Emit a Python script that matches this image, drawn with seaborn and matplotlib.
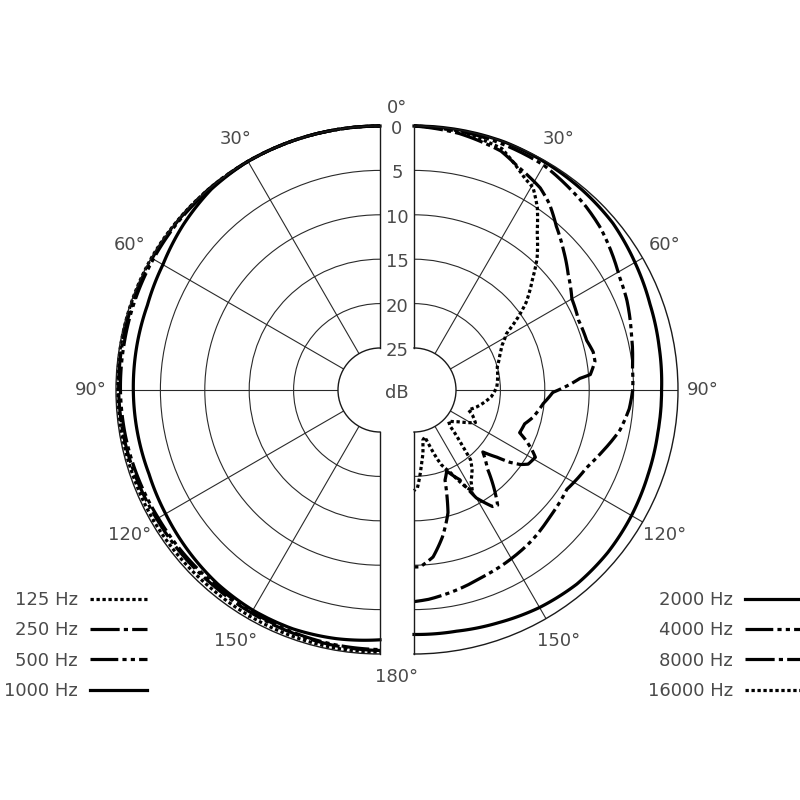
import numpy as np
import pandas as pd
import matplotlib
matplotlib.use("Agg")
import matplotlib.pyplot as plt
import seaborn as sns
from matplotlib.lines import Line2D

# ---------------- data (relative level in dB vs. angle in degrees) ----------------
FREQS_LEFT = ["125 Hz", "250 Hz", "500 Hz", "1000 Hz"]
FREQS_RIGHT = ["2000 Hz", "4000 Hz", "8000 Hz", "16000 Hz"]

ANG_LEFT = [0, 10, 20, 30, 40, 50, 60, 70, 80, 90, 100, 110, 120, 130, 140, 150, 160, 170, 180]
LVL_125 = [0, 0, 0, 0, 0, 0, 0, -0.05, -0.1, -0.2, -0.25, -0.3, -0.3, -0.35, -0.4, -0.35, -0.3, -0.25, -0.2]
LVL_250 = [0, 0, 0, 0, 0, -0.05, -0.1, -0.2, -0.25, -0.3, -0.4, -0.55, -0.7, -0.75, -0.8, -0.75, -0.65, -0.5, -0.4]
LVL_500 = [0, 0, 0, 0, -0.1, -0.15, -0.25, -0.35, -0.45, -0.5, -0.6, -0.75, -0.9, -0.95, -1.0, -0.9, -0.75, -0.6, -0.5]
LVL_1000 = [0, 0, 0, 0, -0.2, -0.8, -1.5, -1.85, -1.9, -1.95, -2.0, -2.05, -1.85, -1.55, -1.25, -1.1, -1.1, -1.3, -1.6]

ANG_2000 = [0, 10, 20, 30, 40, 50, 60, 70, 80, 90, 100, 110, 120, 130, 140, 150, 160, 170, 180]
LVL_2000 = [0, 0, 0, -0.15, -0.3, -0.5, -1.0, -1.45, -1.7, -1.85, -1.85, -1.7, -1.45, -1.25, -1.2, -1.45, -1.85, -2.15, -2.2]

ANG_4000 = [0, 15, 30, 37, 43, 49, 55, 61, 67, 75, 84, 90, 95, 101, 108, 114, 123, 133, 142, 150, 160, 168, 176, 180]
LVL_4000 = [0, -0.2, -0.5, -1.0, -1.4, -1.9, -2.6, -3.3, -3.7, -4.4, -5.0, -5.1, -5.4, -6.1, -7.4, -8.4, -9.2,
            -8.8, -8.2, -7.8, -7.3, -6.7, -6.1, -5.9]

ANG_8000 = [0, 10, 20, 25, 32, 36, 41, 47, 53, 60, 67, 74, 78, 81, 85, 86, 88, 91, 96, 103, 107, 112, 114, 117,
            119, 123, 125, 127, 129, 132, 137, 144, 146, 150, 153, 158, 161, 164.5, 169, 173.5, 178, 180]
LVL_8000 = [0, -0.4, -1.1, -2.0, -2.9, -3.8, -5.3, -6.7, -8.0, -9.2, -9.6, -9.5, -9.1, -9.1, -9.8, -11.0, -12.2,
            -14.1, -15.1, -16.0, -16.7, -16.9, -16.0, -14.8, -14.1, -14.4, -15.1, -16.2, -17.7, -19.3, -17.6,
            -13.7, -13.9, -15.7, -18.4, -19.9, -19.0, -15.4, -12.9, -10.8, -9.8, -9.8]

ANG_16000 = [0, 10, 20, 27.5, 30.5, 34, 38, 43, 47, 52, 55, 58.5, 63, 67, 74.5, 88, 95, 105, 110, 113, 118, 125,
             132, 135, 139, 141, 144, 148, 150, 152, 156, 160, 164, 167, 170, 172, 174, 178, 180]
LVL_16000 = [0, -0.2, -0.8, -2.8, -3.3, -4.9, -7.2, -9.4, -11.5, -13.7, -15.4, -17.5, -18.6, -19.2, -20.0, -20.4,
             -21.0, -22.4, -23.2, -22.6, -21.9, -23.5, -24.5, -24.0, -21.5, -19.6, -18.6, -17.6, -16.6, -17.4,
             -19.5, -20.8, -23.0, -24.3, -24.0, -22.5, -21.5, -18.7, -18.4]

RING_LEVELS = [0, -5, -10, -15, -20, -25]
SPOKES = [30, 60, 90, 120, 150]

# ---------------- style ----------------
plt.rcParams["lines.scale_dashes"] = False
plt.rcParams["font.family"] = ["DejaVu Sans"]
TXT = "#4a4a4a"
FS = 13
LW = 2.3
DASHES = {
    "125 Hz": (2.4, 1.9), "250 Hz": (21, 3, 3, 3), "500 Hz": (20, 3, 3, 3, 3, 3), "1000 Hz": "",
    "2000 Hz": "", "4000 Hz": (20, 3, 3, 3, 3, 3), "8000 Hz": (21, 3, 3, 3), "16000 Hz": (2.4, 1.9),
}
PAL = {k: "black" for k in DASHES}

def long_df(freqs, angs, lvls):
    rows = []
    for f, a, l in zip(freqs, angs, lvls):
        rows.append(pd.DataFrame({"theta": np.deg2rad(a), "level": l, "freq": f}))
    return pd.concat(rows, ignore_index=True)

df_left = long_df(FREQS_LEFT, [ANG_LEFT] * 4, [LVL_125, LVL_250, LVL_500, LVL_1000])
df_right = long_df(FREQS_RIGHT, [ANG_2000, ANG_4000, ANG_8000, ANG_16000],
                   [LVL_2000, LVL_4000, LVL_8000, LVL_16000])

# ---------------- layout ----------------
W = 800.0
R = 264.0           # outer radius in px
HOLE = 42.0         # inner radius in px
CY = 410.0          # centre y (from bottom)
CXL, CXR = 380.0, 414.0
HOLE_DB = 25 * HOLE / (R - HOLE)

fig = plt.figure(figsize=(8, 8), dpi=100, facecolor="white")
ax_r = fig.add_axes([(CXR - 0.5 * R) / W, (CY - R) / W, 2 * R / W, 2 * R / W], projection="polar")
ax_l = fig.add_axes([(CXL - 1.5 * R) / W, (CY - R) / W, 2 * R / W, 2 * R / W], projection="polar")

def setup_half(ax, direction):
    ax.set_theta_zero_location("N")
    ax.set_theta_direction(direction)
    ax.set_thetamin(0)
    ax.set_thetamax(180)
    ax.set_ylim(-25, 0)
    ax.set_rorigin(-25 - HOLE_DB)
    ax.set_yticks(RING_LEVELS[1:-1])
    ax.set_yticklabels([])
    ax.set_xticks(np.deg2rad(SPOKES))
    ax.set_xticklabels([])
    ax.tick_params(length=0)
    ax.grid(True, color="#2a2a2a", lw=0.8)
    for sp in ax.spines.values():
        sp.set_color("#1a1a1a")
        sp.set_linewidth(1.0)

setup_half(ax_r, -1)
setup_half(ax_l, 1)

for ax, df in ((ax_l, df_left), (ax_r, df_right)):
    sns.lineplot(data=df, x="theta", y="level", hue="freq", style="freq", palette=PAL,
                 dashes=DASHES, estimator=None, sort=False, lw=LW, legend=False,
                 ax=ax, clip_on=False)
    ax.set_xlabel("")
    ax.set_ylabel("")
    # draw segments as true polar curves (arcs), not straight chords
    for ln in ax.lines:
        if ln.get_gid() is None:
            ln.get_path()._interpolation_steps = 24
    for a in SPOKES:
        ax.text(np.deg2rad(a), 2.85, f"{a}°", ha="center", va="center", fontsize=FS, color=TXT)

# centre strip labels
fig.canvas.draw()
inv = fig.transFigure.inverted()
xm = 0.5 * (ax_r.transData.transform((0, -25))[0] + ax_l.transData.transform((0, -25))[0])
for L in RING_LEVELS:
    y = ax_r.transData.transform((0, L))[1] - 3
    fig.text(*inv.transform((xm, y)), f"{-L}", ha="center", va="center", fontsize=FS, color=TXT)
yc = ax_r.transData.transform((0, -25 - HOLE_DB))[1] - 3
fig.text(*inv.transform((xm, yc)), "dB", ha="center", va="center", fontsize=FS, color=TXT)
yt = ax_r.transData.transform((0, 2.0))[1]
fig.text(*inv.transform((xm, yt)), "0°", ha="center", va="center", fontsize=FS, color=TXT)
yb = ax_r.transData.transform((np.pi, 2.6))[1]
fig.text(*inv.transform((xm, yb)), "180°", ha="center", va="center", fontsize=FS, color=TXT)

# legends
def handles(freqs):
    hs = []
    for f in freqs:
        d = DASHES[f]
        if d == "":
            hs.append(Line2D([], [], color="black", lw=LW, linestyle="-"))
        else:
            hs.append(Line2D([], [], color="black", lw=LW, dashes=d))
    return hs

leg_kw = dict(frameon=False, markerfirst=False, handlelength=3.16, handletextpad=0.66,
              labelspacing=0.68, borderpad=0, borderaxespad=0, fontsize=FS, labelcolor=TXT)
fig.legend(handles(FREQS_LEFT), FREQS_LEFT, loc="center right",
           bbox_to_anchor=(147 / W, 154.5 / W), **leg_kw)
fig.legend(handles(FREQS_RIGHT), FREQS_RIGHT, loc="center right",
           bbox_to_anchor=(802 / W, 154.5 / W), **leg_kw)

fig.savefig("out.png", dpi=100, facecolor="white")
